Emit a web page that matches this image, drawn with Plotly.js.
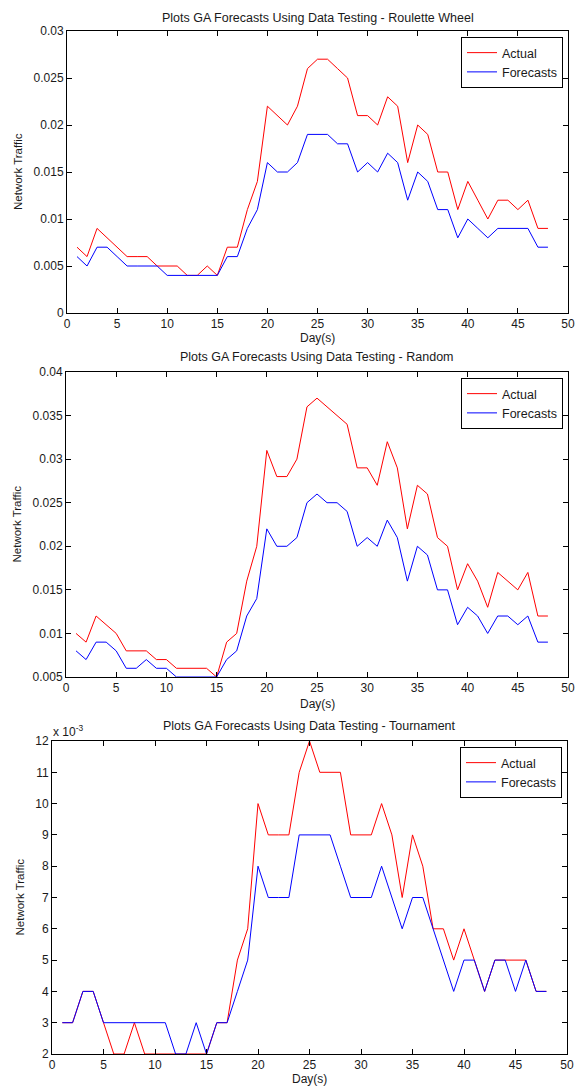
<!DOCTYPE html>
<html>
<head>
<meta charset="utf-8">
<script src="https://cdn.plot.ly/plotly-3.0.1.min.js"></script>
<style>
  html, body { margin: 0; padding: 0; background: #fff; }
  #chart { width: 577px; height: 1087px; }
</style>
</head>
<body>
<div id="chart"></div>
<script>
// ---- data ----
var days = [1,2,3,4,5,6,7,8,9,10,11,12,13,14,15,16,17,18,19,20,21,22,23,24,25,26,27,28,29,30,31,32,33,34,35,36,37,38,39,40,41,42,43,44,45,46,47,48];

var seriesNames = ["Actual", "Forecasts"];
var plotTitles = [
  "Plots GA Forecasts Using Data Testing - Roulette Wheel",
  "Plots GA Forecasts Using Data Testing - Random",
  "Plots GA Forecasts Using Data Testing - Tournament"
];

var rouletteActual = [0.007,0.006,0.009,0.008,0.007,0.006,0.006,0.006,0.005,0.005,
  0.005,0.004,0.004,0.005,0.004,0.007,0.007,0.011,0.014,0.022,
  0.021,0.020,0.022,0.026,0.027,0.027,0.026,0.025,0.021,0.021,
  0.020,0.023,0.022,0.016,0.020,0.019,0.015,0.015,0.011,0.014,
  0.012,0.010,0.012,0.012,0.011,0.012,0.009,0.009];
var rouletteForecast = [0.006,0.005,0.007,0.007,0.006,0.005,0.005,0.005,0.005,0.004,
  0.004,0.004,0.004,0.004,0.004,0.006,0.006,0.009,0.011,0.016,
  0.015,0.015,0.016,0.019,0.019,0.019,0.018,0.018,0.015,0.016,
  0.015,0.017,0.016,0.012,0.015,0.014,0.011,0.011,0.008,0.010,
  0.009,0.008,0.009,0.009,0.009,0.009,0.007,0.007];

var randomActual = [0.010,0.009,0.012,0.011,0.010,0.008,0.008,0.008,0.007,0.007,
  0.006,0.006,0.006,0.006,0.005,0.009,0.010,0.016,0.020,0.031,
  0.028,0.028,0.030,0.036,0.037,0.036,0.035,0.034,0.029,0.029,
  0.027,0.032,0.029,0.022,0.027,0.026,0.021,0.020,0.015,0.018,
  0.016,0.013,0.017,0.016,0.015,0.017,0.012,0.012];
var randomForecast = [0.008,0.007,0.009,0.009,0.008,0.006,0.006,0.007,0.006,0.006,
  0.005,0.005,0.005,0.005,0.005,0.007,0.008,0.012,0.014,0.022,
  0.020,0.020,0.021,0.025,0.026,0.025,0.025,0.024,0.020,0.021,
  0.020,0.023,0.021,0.016,0.020,0.019,0.015,0.015,0.011,0.013,
  0.012,0.010,0.012,0.012,0.011,0.012,0.009,0.009];

var tournamentActual = [0.003,0.003,0.004,0.004,0.003,0.002,0.002,0.003,0.002,0.002,
  0.002,0.002,0.002,0.002,0.002,0.003,0.003,0.005,0.006,0.010,
  0.009,0.009,0.009,0.011,0.012,0.011,0.011,0.011,0.009,0.009,
  0.009,0.010,0.009,0.007,0.009,0.008,0.006,0.006,0.005,0.006,
  0.005,0.004,0.005,0.005,0.005,0.005,0.004,0.004];
var tournamentForecast = [0.003,0.003,0.004,0.004,0.003,0.003,0.003,0.003,0.003,0.003,
  0.003,0.002,0.002,0.003,0.002,0.003,0.003,0.004,0.005,0.008,
  0.007,0.007,0.007,0.009,0.009,0.009,0.009,0.008,0.007,0.007,
  0.007,0.008,0.007,0.006,0.007,0.007,0.006,0.005,0.004,0.005,
  0.005,0.004,0.005,0.005,0.004,0.005,0.004,0.004];

var xTickVals = [0,5,10,15,20,25,30,35,40,45,50];
var xTickText = ["0","5","10","15","20","25","30","35","40","45","50"];
var y1TickVals = [0,0.005,0.01,0.015,0.02,0.025,0.03];
var y1TickText = ["0","0.005","0.01","0.015","0.02","0.025","0.03"];
var y2TickVals = [0.005,0.01,0.015,0.02,0.025,0.03,0.035,0.04];
var y2TickText = ["0.005","0.01","0.015","0.02","0.025","0.03","0.035","0.04"];
var y3TickVals = [0.002,0.003,0.004,0.005,0.006,0.007,0.008,0.009,0.010,0.011,0.012];
var y3TickText = ["2","3","4","5","6","7","8","9","10","11","12"];

var xLabel = "Day(s)";
var yLabel = "Network Traffic";
var expLabel = "x 10<sup>-3</sup>";

// ---- layout helpers ----
var W = 577, H = 1087;
function px(x) { return x / W; }
function py(y) { return 1 - y / H; }

var FONT = "Liberation Sans, Arial, Helvetica, sans-serif";
var TXT = "#1a1a1a";
var RED = "#ff0000", BLUE = "#0000ff";

function mkTrace(y, name, color, ax, lg) {
  return {
    x: days, y: y, name: name, type: "scatter", mode: "lines",
    line: { color: color, width: 1 },
    xaxis: "x" + ax, yaxis: "y" + ax, legend: lg, showlegend: true
  };
}

var data = [
  mkTrace(rouletteActual, seriesNames[0], RED, "", "legend"),
  mkTrace(rouletteForecast, seriesNames[1], BLUE, "", "legend"),
  mkTrace(randomActual, seriesNames[0], RED, "2", "legend2"),
  mkTrace(randomForecast, seriesNames[1], BLUE, "2", "legend2"),
  mkTrace(tournamentActual, seriesNames[0], RED, "3", "legend3"),
  mkTrace(tournamentForecast, seriesNames[1], BLUE, "3", "legend3")
];

function xAxis(dom, anchor) {
  return {
    domain: dom, anchor: anchor, range: [0, 50],
    tickmode: "array", tickvals: xTickVals, ticktext: xTickText,
    ticks: "inside", ticklen: 5, tickcolor: "#000", tickwidth: 1,
    showline: true, linecolor: "#000", linewidth: 1, mirror: "ticks",
    showgrid: false, zeroline: false,
    tickfont: { family: FONT, size: 12, color: TXT }
  };
}
function yAxis(dom, anchor, range, tv, tt) {
  return {
    domain: dom, anchor: anchor, range: range,
    tickmode: "array", tickvals: tv, ticktext: tt,
    ticks: "inside", ticklen: 5, tickcolor: "#000", tickwidth: 1,
    showline: true, linecolor: "#000", linewidth: 1, mirror: "ticks",
    showgrid: false, zeroline: false,
    tickfont: { family: FONT, size: 12, color: TXT }
  };
}

var box1 = { x0: 67, x1: 568, y0: 31, y1: 313 };
var box2 = { x0: 66, x1: 568, y0: 372, y1: 677 };
var box3 = { x0: 52, x1: 567, y0: 741, y1: 1054 };

function legendAt(box) {
  return {
    x: px(box.x1 - 5), xanchor: "right",
    y: py(box.y0 + 6), yanchor: "top",
    bgcolor: "#fff", bordercolor: "#000", borderwidth: 1,
    font: { family: FONT, size: 12.5, color: TXT },
    itemwidth: 30, tracegroupgap: 0
  };
}

function ann(text, x, y, opts) {
  var a = {
    text: text, x: px(x), y: py(y), xref: "paper", yref: "paper",
    showarrow: false, xanchor: "center", yanchor: "middle",
    font: { family: FONT, size: 12, color: TXT }
  };
  for (var k in opts) a[k] = opts[k];
  return a;
}

var titleFont = { family: FONT, size: 12.5, color: TXT };
var annotations = [];
[[box1, 0, 18, 338, 18], [box2, 1, 357, 704, 16], [box3, 2, 726, 1079, 19]].forEach(function (r) {
  var b = r[0], cx = (b.x0 + b.x1) / 2;
  annotations.push(ann(plotTitles[r[1]], cx, r[2], { font: titleFont }));
  annotations.push(ann(xLabel, cx, r[3]));
  annotations.push(ann(yLabel, r[4], (b.y0 + b.y1) / 2, { textangle: -90,
    font: { family: FONT, size: 11.5, color: TXT } }));
});
annotations.push(ann(expLabel, 51, 731, { xanchor: "left" }));

var layout = {
  width: W, height: H,
  margin: { l: 0, r: 0, t: 0, b: 0 },
  paper_bgcolor: "#fff", plot_bgcolor: "#fff",
  showlegend: true,
  xaxis: xAxis([px(box1.x0), px(box1.x1)], "y"),
  yaxis: yAxis([py(box1.y1), py(box1.y0)], "x", [0, 0.03], y1TickVals, y1TickText),
  xaxis2: xAxis([px(box2.x0), px(box2.x1)], "y2"),
  yaxis2: yAxis([py(box2.y1), py(box2.y0)], "x2", [0.005, 0.04], y2TickVals, y2TickText),
  xaxis3: xAxis([px(box3.x0), px(box3.x1)], "y3"),
  yaxis3: yAxis([py(box3.y1), py(box3.y0)], "x3", [0.002, 0.012], y3TickVals, y3TickText),
  legend: legendAt(box1),
  legend2: legendAt(box2),
  legend3: legendAt(box3),
  annotations: annotations
};

Plotly.newPlot("chart", data, layout, { displayModeBar: false, staticPlot: true });
</script>
</body>
</html>
